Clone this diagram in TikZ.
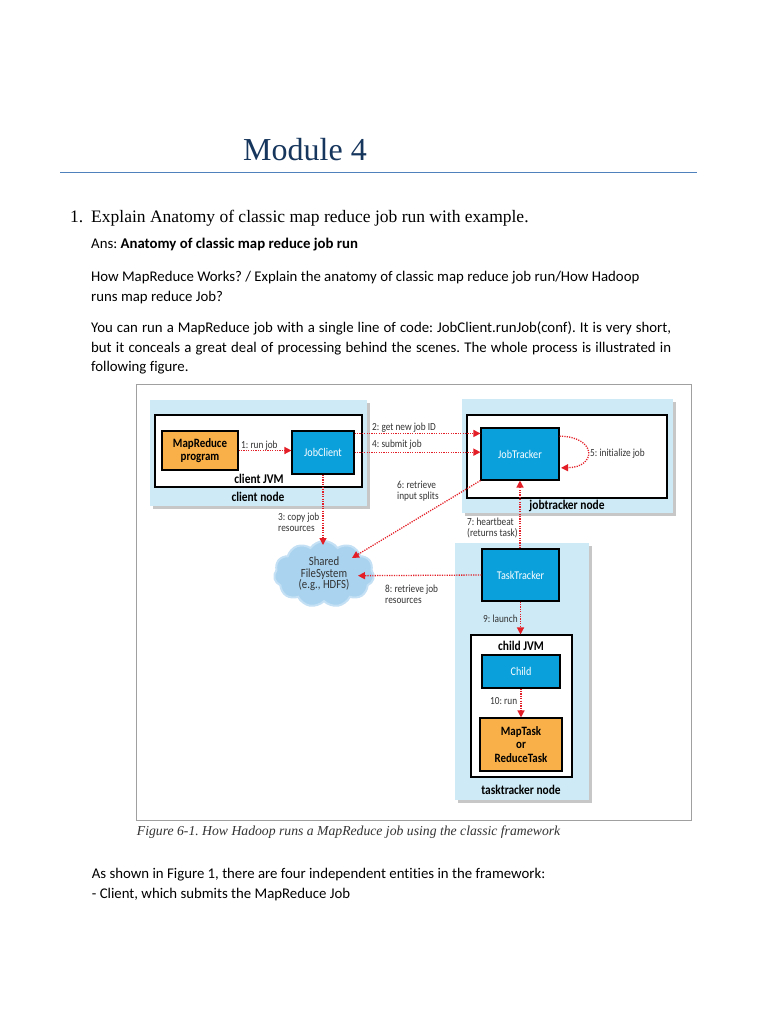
\documentclass[tikz,border=0pt]{standalone}
\usepackage{fontspec}
\setmainfont[Ligatures={NoCommon}]{Carlito}
\newfontfamily\serifface{Liberation Serif}
\newfontfamily\figfont[FakeStretch=0.86,Ligatures={NoCommon}]{Carlito}
\usetikzlibrary{arrows.meta,shapes.symbols,shadows}
\definecolor{titleblue}{HTML}{17365D}
\definecolor{ruleblue}{HTML}{4F81BD}
\definecolor{nodebg}{HTML}{CDEAF6}
\definecolor{boxblue}{HTML}{0AA0DC}
\definecolor{boxorange}{HTML}{FAB048}
\definecolor{arrred}{HTML}{E41E26}
\definecolor{figgray}{HTML}{333333}
\definecolor{cloudblue}{HTML}{A9D3EF}
\definecolor{framegray}{HTML}{A0A0A0}
\frenchspacing
\tikzset{
  body/.style={anchor=base west, inner sep=0pt, font=\fontsize{14.8}{17}\selectfont},
  hostbox/.style={fill=nodebg, draw=none, inner sep=0pt,
     drop shadow={shadow xshift=2.5pt, shadow yshift=-2.5pt, fill=black, opacity=0.22}},
  jvmbox/.style={fill=white, draw=black, line width=1.1pt, inner sep=0pt},
  bluebox/.style={fill=boxblue, draw=black, line width=1.1pt, inner sep=0pt, text=white,
     font=\figfont\fontsize{11.8}{13}\selectfont},
  orangebox/.style={fill=boxorange, draw=black, line width=1.1pt, inner sep=0pt, text=black,
     align=center, font=\figfont\bfseries\fontsize{12.7}{13.5}\selectfont},
  lbl/.style={anchor=west, inner sep=0pt, text=figgray, align=left,
     font=\figfont\fontsize{10.8}{11.3}\selectfont},
  blbl/.style={inner sep=0pt, text=black, font=\figfont\bfseries\fontsize{13.3}{14}\selectfont},
  arr/.style={draw=arrred, line width=1.3pt, dash pattern=on 1.2pt off 1.2pt,
     -{Triangle[length=7pt,width=7pt]}, arrred}
}
\begin{document}
\begin{tikzpicture}[x=1pt,y=-1pt]
\fill[white] (0,0) rectangle (768,1024);
\useasboundingbox (0,0) rectangle (768,1024);

% header
\node[anchor=base west, inner sep=0pt, text=titleblue, font=\serifface\fontsize{32}{36}\selectfont] (title) at (243,160.7) {Module 4};
\draw[ruleblue, line width=1pt] (60,172.3) coordinate (rl) -- (697,172.3) coordinate (rr);

\node[anchor=base west, inner sep=0pt, font=\serifface\fontsize{17.5}{20}\selectfont] (qnum) at (70,222.3) {1.};
\node[anchor=base west, inner sep=0pt, font=\serifface\fontsize{17.5}{20}\selectfont] (q) at (91,222.3) {Explain Anatomy of classic map reduce job run with example.};

\node[body] (ans) at (91,248.3) {Ans: \textbf{Anatomy of classic map reduce job run}};
\node[body] (p1a) at (91,281) {How MapReduce Works? / Explain the anatomy of classic map reduce job run/How Hadoop};
\node[body] (p1b) at (91,301) {runs map reduce Job?};
\node[body] (p2a) at (91,332.7) {\makebox[580pt][s]{You can run a MapReduce job with a single line of code: JobClient.runJob(conf). It is very short,}};
\node[body] (p2b) at (91,352.7) {\makebox[580pt][s]{but it conceals a great deal of processing behind the scenes. The whole process is illustrated in}};
\node[body] (p2c) at (91,371.7) {following figure.};

% figure frame
\draw[framegray, line width=1pt] (136,384.5) rectangle (691,820);

% client node
\node[hostbox, minimum width=217pt, minimum height=106pt] (cn) at (258.5,453) {};
\node[jvmbox, minimum width=207pt, minimum height=72pt] (cj) at (258.5,451) {};
\node[orangebox, minimum width=76pt, minimum height=39pt] (mr) at (200,450.5) {MapReduce\\program};
\node[bluebox, minimum width=62pt, minimum height=43pt] (jc) at (323,452.5) {JobClient};
\node[blbl] (cjl) at (259,479) {client JVM};
\node[blbl] (cnl) at (258,497) {client node};

% jobtracker node
\node[hostbox, minimum width=211pt, minimum height=114pt] (jn) at (567.5,456) {};
\node[jvmbox, minimum width=200pt, minimum height=83pt] (jj) at (567,456.5) {};
\node[bluebox, minimum width=78pt, minimum height=52pt] (jt) at (520,454) {JobTracker};
\node[blbl] (jnl) at (567,506) {jobtracker node};

% tasktracker node
\node[hostbox, minimum width=134pt, minimum height=257pt] (tn) at (522,671.5) {};
\node[bluebox, minimum width=77pt, minimum height=52pt] (tt) at (520.5,575) {TaskTracker};
\node[jvmbox, minimum width=101pt, minimum height=142pt] (chj) at (521.5,706) {};
\node[blbl] (chjl) at (521,646) {child JVM};
\node[bluebox, minimum width=78pt, minimum height=33pt] (ch) at (521,671.5) {Child};
\node[orangebox, minimum width=82pt, minimum height=53pt] (mt) at (521,744.5) {MapTask\\or\\ReduceTask};
\node[blbl] (tnl) at (521,790) {tasktracker node};

% cloud
\node[cloud, cloud puffs=11, cloud puff arc=110, aspect=1.5, fill=cloudblue, draw=cloudblue!70!white, line width=2pt,
      minimum width=100pt, minimum height=66pt, inner sep=0pt, align=center, text=figgray,
      font=\figfont\fontsize{12.5}{11.6}\selectfont] (fs) at (324,574) {Shared\\FileSystem\\(e.g., HDFS)};
\coordinate (c3) at (323,545);
\coordinate (c6) at (352,558);
\coordinate (c8) at (358,575.7);

% arrows
\draw[arr] (mr.east) -- (mr.east -| jc.west);
\draw[arr] ([yshift=-3pt]jc.north east) -- ([yshift=-3pt]jc.north east -| jt.west);
\draw[arr] ([yshift=-21.7pt]jc.north east) -- ([yshift=-21.7pt]jc.north east -| jt.west);
\draw[arr] (jc.south) -- (c3);
\draw[arr] ([yshift=-8.7pt]jt.north east) .. controls (597,436.7) and (597,467.3) .. ([yshift=12.7pt,xshift=1.5pt]jt.south east);
\draw[arr] (jt.south west) -- (c6);
\draw[arr] (tt.north -| jt.south) -- (jt.south);
\draw[arr] (tt.west) -- (c8);
\draw[arr] (tt.south) -- (tt.south |- chj.north);
\draw[arr] (ch.south) -- (ch.south |- mt.north);

% labels
\node[lbl] (l1) at (241,445.7) {1: run job};
\node[lbl] (l2) at (372,427.7) {2: get new job ID};
\node[lbl] (l4) at (372,445) {4: submit job};
\node[lbl] (l6) at (397,491.3) {6: retrieve\\input splits};
\node[lbl] (l3) at (278,522.2) {3: copy job\\resources};
\node[lbl] (l5) at (590,453.3) {5: initialize job};
\node[lbl] (l7) at (467,528) {7: heartbeat\\(returns task)};
\node[lbl] (l8) at (385,594.2) {8: retrieve job\\resources};
\node[lbl] (l9) at (483,618.3) {9: launch};
\node[lbl] (l10) at (490,701) {10: run};

% caption
\node[anchor=base west, inner sep=0pt, text=figgray, font=\serifface\itshape\fontsize{13.7}{16}\selectfont] (cap) at (136.7,835) {Figure 6-1. How Hadoop runs a MapReduce job using the classic framework};

\node[body] (p3a) at (91.7,878.3) {As shown in Figure 1, there are four independent entities in the framework:};
\node[body] (p3b) at (91.7,898.3) {- Client, which submits the MapReduce Job};
\end{tikzpicture}
\end{document}
